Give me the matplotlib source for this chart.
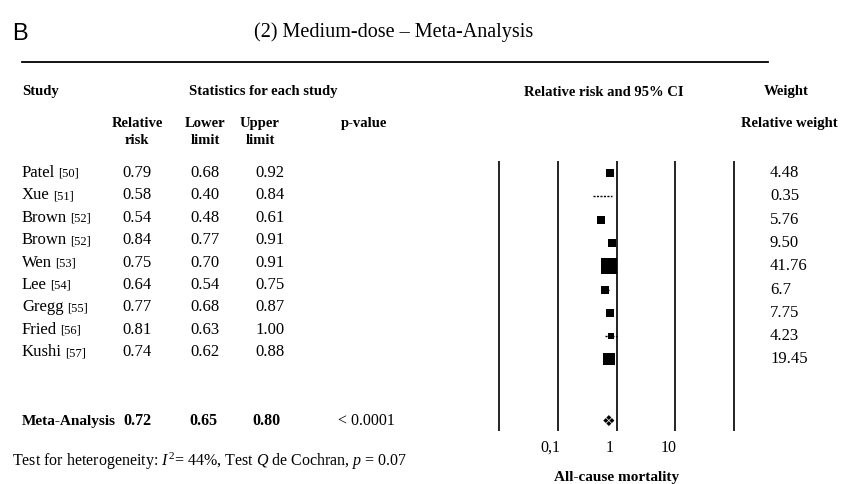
import numpy as np
import matplotlib.pyplot as plt
from matplotlib import transforms

plt.rcParams['font.family'] = ['Liberation Serif', 'DejaVu Serif']
plt.rcParams['mathtext.fontset'] = 'custom'
plt.rcParams['mathtext.rm'] = 'Liberation Serif'
plt.rcParams['mathtext.it'] = 'Liberation Serif:italic'

# data
studies = ['Patel', 'Xue', 'Brown', 'Brown', 'Wen', 'Lee', 'Gregg', 'Fried', 'Kushi']
refs = ['[50]', '[51]', '[52]', '[52]', '[53]', '[54]', '[55]', '[56]', '[57]']
rr = [0.79, 0.58, 0.54, 0.84, 0.75, 0.64, 0.77, 0.81, 0.74]
lower = [0.68, 0.40, 0.48, 0.77, 0.70, 0.54, 0.68, 0.63, 0.62]
upper = [0.92, 0.84, 0.61, 0.91, 0.91, 0.75, 0.87, 1.00, 0.88]
weights = ['4.48', '0.35', '5.76', '9.50', '41.76', '6.7', '7.75', '4.23', '19.45']
meta = {'rr': 0.72, 'lower': 0.65, 'upper': 0.80, 'p': '< 0.0001'}
axis_lines = [0.01, 0.1, 1, 10, 100]
tick_vals = [0.1, 1, 10]
tick_labels = ['0,1', '1', '10']

W, H = 843, 484
fig = plt.figure(figsize=(W / 100, H / 100), dpi=100)
renderer = fig.canvas.get_renderer()


def fy(y):
    return 1 - y / H


def fx(x):
    return x / W


def put(x, y, s, **kw):
    kw.setdefault('va', 'center')
    return fig.text(fx(x), fy(y), s, **kw)


# title block
put(12, 34, 'B', fontsize=17, family='Liberation Sans')
put(394, 32, '(2) Medium-dose \u2013 Meta-Analysis', fontsize=14.5, ha='center')
fig.add_artist(plt.Line2D([fx(22), fx(768)], [fy(62), fy(62)], color='black', lw=1.3))

# headers
hb = dict(fontsize=10.5, fontweight='bold')
put(22, 92, 'Study', **hb)
put(263, 92, 'Statistics for each study', ha='center', **hb)
put(604, 92, 'Relative risk and 95% CI', ha='center', **hb)
put(786, 92, 'Weight', ha='center', **hb)
put(137, 132, 'Relative\nrisk', ha='center', linespacing=1.35, **hb)
put(205, 132, 'Lower\nlimit', ha='center', linespacing=1.35, **hb)
put(260, 132, 'Upper\nlimit', ha='center', linespacing=1.35, **hb)
put(364, 123, 'p-value', ha='center', **hb)
put(789, 123, 'Relative weight', ha='center', **hb)

# study rows
row0, row_step = 173, 22.4
for i, name in enumerate(studies):
    y = row0 + i * row_step
    t = put(22, y, name, fontsize=12)
    bb = t.get_window_extent(renderer)
    fig.text((bb.x1 + 3) / W, fy(y + 1), refs[i], fontsize=9, va='center')
    put(137, y, f'{rr[i]:.2f}', fontsize=12, ha='center')
    put(205, y, f'{lower[i]:.2f}', fontsize=12, ha='center')
    put(270, y, f'{upper[i]:.2f}', fontsize=12, ha='center')

# meta row
my = 421
put(22, my, 'Meta-Analysis', fontsize=11, fontweight='bold')
put(137, my, f"{meta['rr']:.2f}", fontsize=11.5, fontweight='bold', ha='center')
put(203, my, f"{meta['lower']:.2f}", fontsize=11.5, fontweight='bold', ha='center')
put(266, my, f"{meta['upper']:.2f}", fontsize=11.5, fontweight='bold', ha='center')
put(366, my, meta['p'], fontsize=11.5, ha='center')

put(12, 461, r'Test for heterogeneity: $I^2$= 44%, Test $Q$ de Cochran, $p$ = 0.07',
    fontsize=11.5)

# forest plot
x0, x1, ytop, ybot = 499, 734, 162, 430
ax = fig.add_axes([fx(x0), fy(ybot), (x1 - x0) / W, (ybot - ytop) / H])
ax.set_xscale('log')
ax.set_xlim(0.01, 100)
w_row0, w_step = 173, 23.3
ax.set_ylim((ybot - w_row0) / w_step, (ytop - w_row0) / w_step)
for s in ax.spines.values():
    s.set_visible(False)
for v in axis_lines:
    ax.axvline(v, color='#222222', lw=1.4, clip_on=False)

idx = np.arange(len(studies))
wv = np.array([float(w) for w in weights])
for i in idx:
    ax.plot([lower[i], upper[i]], [i, i], color='black', lw=1, ls=(0, (1.5, 1)))
    side = 1.9 * np.sqrt(wv[i]) + 3 if wv[i] > 1 else 0
    if side:
        ax.plot(rr[i], i, marker='s', color='black', ms=side * 0.72, mew=0)
    put(770, w_row0 + i * w_step, weights[i], fontsize=12)

meta_row = (my - w_row0) / w_step
ax.text(meta['rr'], meta_row, '\u2756', family='DejaVu Sans', fontsize=11,
        ha='center', va='center')

ax.set_yticks([])
ax.minorticks_off()
ax.set_xticks(tick_vals)
ax.set_xticklabels(tick_labels, fontsize=11.5)
ax.tick_params(axis='x', length=0, pad=7)
shift = transforms.ScaledTranslation(-7 / 100, 0, fig.dpi_scale_trans)
for lbl in ax.get_xticklabels():
    lbl.set_transform(lbl.get_transform() + shift)
ax.set_xlabel('All-cause mortality', fontsize=11, fontweight='bold', labelpad=11)

fig.savefig('out.png', dpi=100)
